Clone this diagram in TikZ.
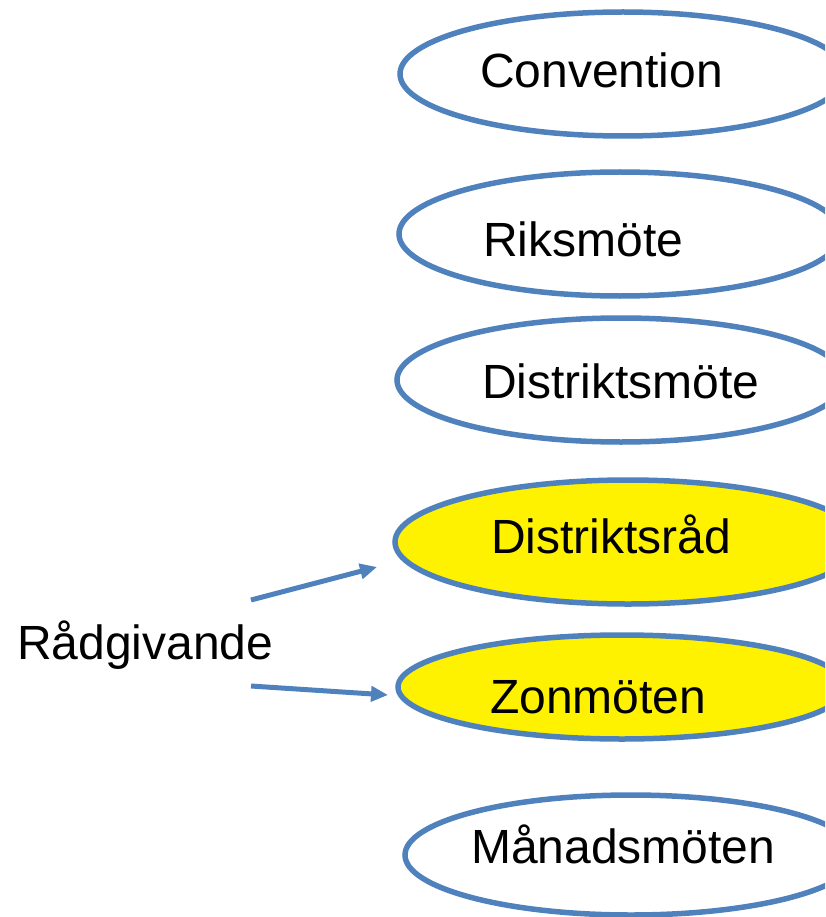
\documentclass[tikz,border=0pt]{standalone}
\usepackage{fontspec}
\setmainfont{Liberation Sans}
\usepackage{tikz}
\usetikzlibrary{arrows.meta}
\usetikzlibrary{shapes.geometric,positioning}
\definecolor{moteblue}{HTML}{4F81BD}

\begin{document}
\begin{tikzpicture}[x=1pt,y=-1pt]
  \tikzset{mote/.style = {shape=ellipse,draw=moteblue,line width=5.5pt,inner sep=0pt}}
    \tikzset{radmote/.style = {shape=ellipse,draw=moteblue,line width=5.5pt,inner sep=0pt,fill=yellow}}
  \tikzset{motetext/.style = {anchor=base west,inner sep=0pt,font=\fontsize{48}{56}\selectfont}}
  \tikzset{edge/.style = {-{Triangle[length=17pt,width=15pt]},draw=moteblue,line width=5pt}}

	\useasboundingbox (0,0) rectangle (825,917);
	\clip (0,0) rectangle (825,917);

	\node[mote, minimum width=446pt, minimum height=124pt] (CO) at (623,74) {};
	\node[mote, minimum width=442pt, minimum height=124pt] (RM) at (620,234) {};
	\node[mote, minimum width=448pt, minimum height=124pt] (DM) at (621,380) {};
	\node[radmote, minimum width=466pt, minimum height=124pt] (DR) at (628,542) {};
	\node[radmote, minimum width=448pt, minimum height=104pt] (ZM) at (622,687) {};
	\node[mote, minimum width=452pt, minimum height=120pt] (MM) at (631,855) {};

	\node[motetext] (COt) at (480,88) {Convention};
	\node[motetext] (RMt) at (483,256) {Riksmöte};
	\node[motetext] (DMt) at (482,398) {Distriktsmöte};
	\node[motetext] (DRt) at (491,553) {Distriktsråd};
	\node[motetext] (ZMt) at (490,713) {Zonmöten};
	\node[motetext] (MMt) at (471,863) {Månadsmöten};

	\node[motetext] (RG) at (17,659) {Rådgivande};

	\coordinate (RGup) at (251,600);
	\coordinate (RGdown) at (251,686);
	\coordinate (DRin) at (377,567);
	\coordinate (ZMin) at (388,695);

    \foreach \from/\to in {RGup/DRin, RGdown/ZMin}
    \draw[edge] (\from) -- (\to);

\end{tikzpicture}
\end{document}
